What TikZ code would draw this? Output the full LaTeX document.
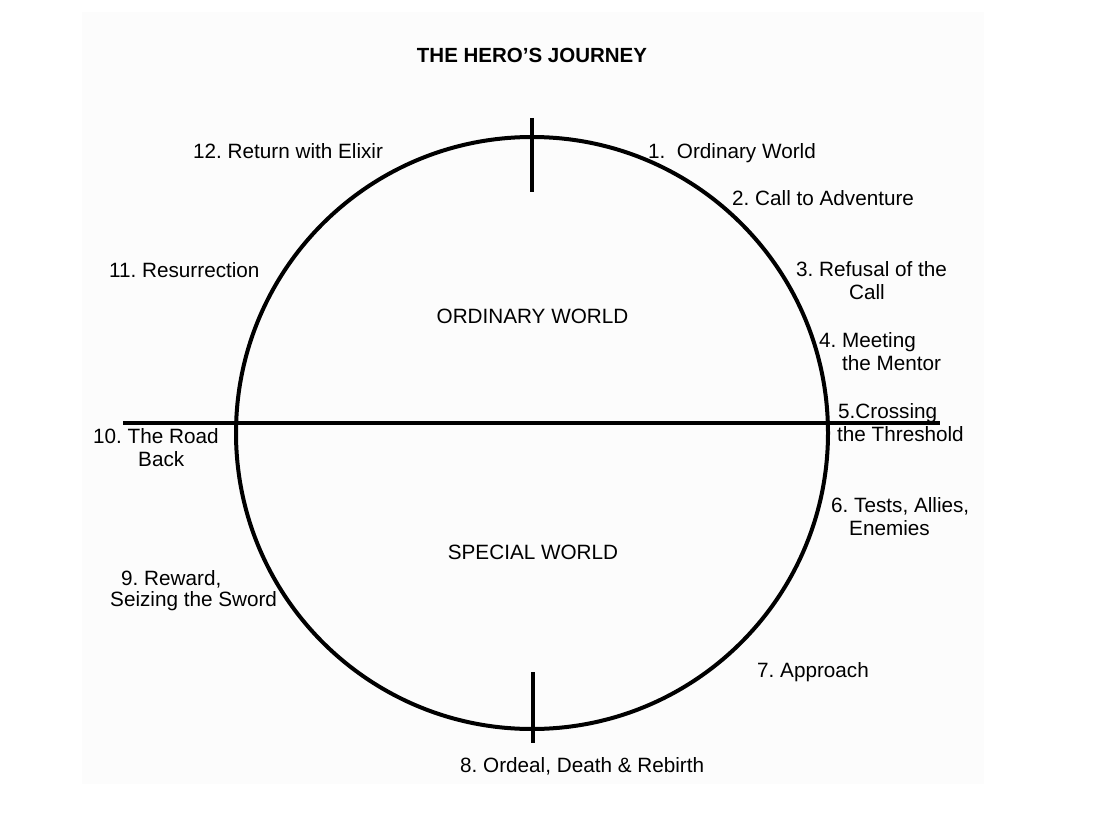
\documentclass[tikz,border=0pt]{standalone}
\usepackage{fontspec}
\setmainfont{Liberation Sans}
\frenchspacing
\begin{document}
\begin{tikzpicture}[x=1pt,y=-1pt,
  lbl/.style={inner sep=0pt,font=\fontsize{20.7}{24}\selectfont},
  lw/.style={lbl,anchor=base west},
  lc/.style={lbl,anchor=base},
  thick line/.style={line width=4pt,draw=black}]
\useasboundingbox (0,0) rectangle (1095,832);
\fill[black!1.3] (82,12) rectangle (984,784);
% geometry
\coordinate (c) at (532,433);
\coordinate (hl) at (123,422.5);
\coordinate (hr) at (940,422.5);
\coordinate (tt) at (532,118);
\coordinate (tb) at (532,192);
\coordinate (bt) at (533,672);
\coordinate (bb) at (533,743);
\draw[thick line] (c) circle (296);
\draw[thick line] (hl) -- (hr);
\draw[thick line] (tt) -- (tb);
\draw[thick line] (bt) -- (bb);
% title and world labels
\node[lc,font=\fontsize{20.5}{24}\selectfont\bfseries] (title) at (532,63) {THE HERO’S JOURNEY};
\node[lc] (ow) at (532.5,323) {ORDINARY WORLD};
\node[lc] (sw) at (533,559) {SPECIAL WORLD};
% stages
\node[lw] (s1) at (648,158) {1.\ \ Ordinary World};
\node[lw] (s2) at (732,205) {2. Call to Adventure};
\node[lw] (s3a) at (796,276) {3. Refusal of the};
\node[lc] (s3b) at (867,299) {Call};
\node[lw] (s4a) at (819,347) {4. Meeting};
\node[lw] (s4b) at (842,370) {the Mentor};
\node[lw] (s5a) at (838,418) {5.Crossing};
\node[lw] (s5b) at (837,441) {the Threshold};
\node[lw] (s6a) at (831,512) {6. Tests, Allies,};
\node[lw] (s6b) at (849,535) {Enemies};
\node[lw] (s7) at (757,677) {7. Approach};
\node[lw] (s8) at (460,772) {8. Ordeal, Death \& Rebirth};
\node[lw] (s9a) at (121,585) {9. Reward,};
\node[lw] (s9b) at (110,606) {Seizing the Sword};
\node[lw] (s10a) at (93,443) {10. The Road};
\node[lw] (s10b) at (138,466) {Back};
\node[lw] (s11) at (109,277) {11. Resurrection};
\node[lw] (s12) at (193,159) {12. Return with Elixir};
\end{tikzpicture}
\end{document}
